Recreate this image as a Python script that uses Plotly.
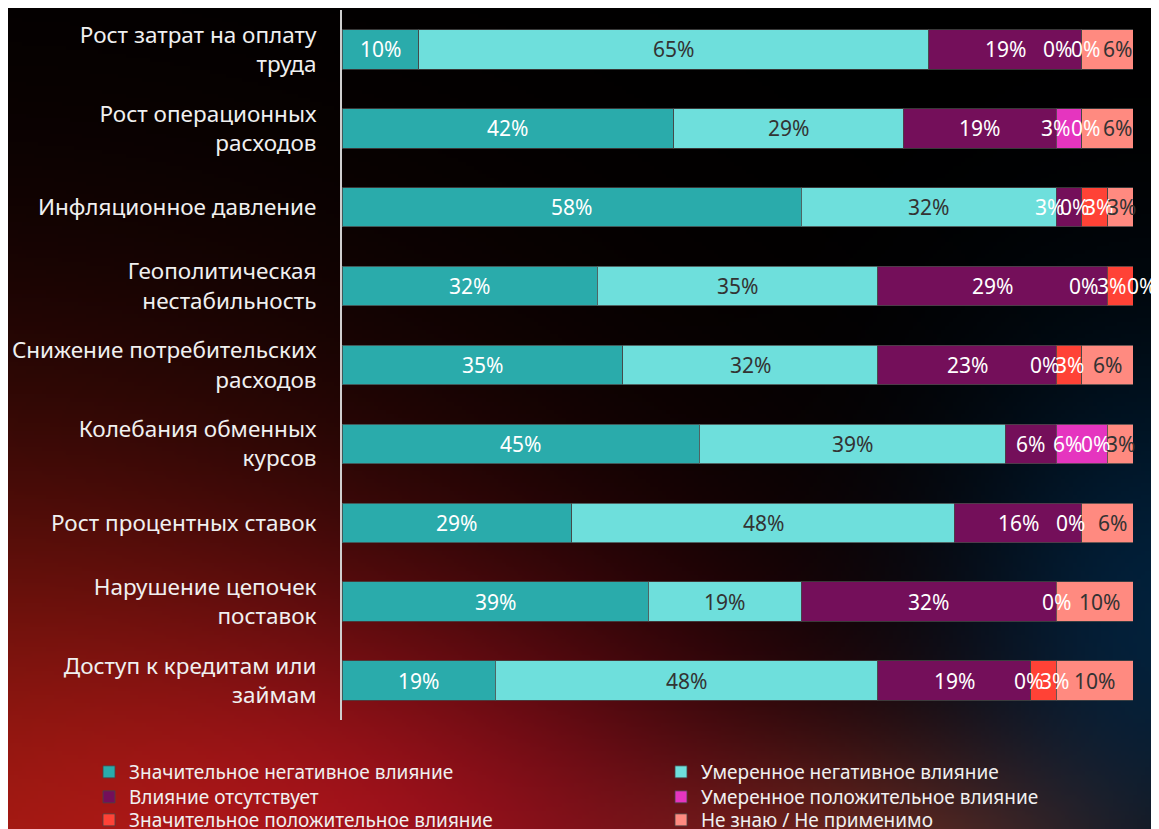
"""Stacked 100% horizontal bars: impact of economic factors (survey, n=31)."""

import base64
import struct
import zlib

import numpy as np
import plotly.graph_objects as go

categories = [
    "Рост затрат на оплату<br>труда",
    "Рост операционных<br>расходов",
    "Инфляционное давление",
    "Геополитическая<br>нестабильность",
    "Снижение потребительских<br>расходов",
    "Колебания обменных<br>курсов",
    "Рост процентных ставок",
    "Нарушение цепочек<br>поставок",
    "Доступ к кредитам или<br>займам",
]

series_names = [
    "Значительное негативное влияние",
    "Умеренное негативное влияние",
    "Влияние отсутствует",
    "Умеренное положительное влияние",
    "Значительное положительное влияние",
    "Не знаю / Не применимо",
]

# shares in %
sig_negative = [9.68, 41.94, 58.06, 32.26, 35.48, 45.16, 29.03, 38.71, 19.35]
mod_negative = [64.52, 29.03, 32.26, 35.48, 32.26, 38.71, 48.39, 19.35, 48.39]
no_impact = [19.35, 19.35, 3.23, 29.03, 22.58, 6.45, 16.13, 32.26, 19.35]
mod_positive = [0, 3.23, 0, 0, 0, 6.45, 0, 0, 0]
sig_positive = [0, 0, 3.23, 3.23, 3.23, 0, 0, 0, 3.23]
dont_know = [6.45, 6.45, 3.23, 0, 6.45, 3.23, 6.45, 9.68, 9.68]

series_values = [sig_negative, mod_negative, no_impact, mod_positive, sig_positive, dont_know]

colors = ["#2AABAB", "#6EDFDC", "#740F5A", "#E535BF", "#FF4236", "#FF8A80"]
text_colors = ["#FFFFFF", "#333333", "#FFFFFF", "#FFFFFF", "#FFFFFF", "#333333"]

# label nudges (px) for the crowded small segments at the right end, keyed (row, series)
label_shift = {
    (0, 3): -24, (0, 4): 4, (0, 5): 10,
    (1, 3): -14, (1, 4): 4, (1, 5): 10,
    (2, 2): -20, (2, 3): -7, (2, 4): 4, (2, 5): 1,
    (3, 3): -24, (3, 4): -9, (3, 5): 8,
    (4, 3): -12, (4, 4): 0,
    (5, 3): -14, (5, 4): -12,
    (6, 3): -11, (6, 5): 5,
    (7, 5): 5,
    (8, 3): -2, (8, 4): 11,
}
hidden_labels = {(6, 4), (7, 4)}

# the page body adds an 8px margin, so the figure is drawn 8px smaller
OFF = 8
W, H = 1159 - OFF, 829 - OFF
M = dict(l=342 - OFF, r=26, t=10 - OFF, b=109, autoexpand=False)
FONT = "Noto Sans"

# one single-item legend per series, laid out as 2 columns x 3 rows (page px)
legend_cols = [89, 661]
legend_rows = [772, 797, 820]


def background_png(w=288, h=205):
    """Dark backdrop with a red glow bottom-left and a blue hint on the right."""
    yy, xx = np.mgrid[0:h, 0:w].astype(float)
    xx = xx * W / w + OFF
    yy = yy * H / h + OFF
    img = np.zeros((h, w, 3))
    blobs = [
        ((-60, 900), (400, 340), (150, 25, 15)),
        ((450, 860), (260, 190), (85, 5, 20)),
        ((1160, 620), (150, 200), (0, 32, 58)),
        ((880, 870), (170, 90), (70, 35, 22)),
    ]
    for (cx, cy), (sx, sy), col in blobs:
        g = np.exp(-((xx - cx) ** 2 / (2 * sx ** 2) + (yy - cy) ** 2 / (2 * sy ** 2)))
        img += g[..., None] * np.array(col, dtype=float)
    rgb = np.clip(img, 0, 255).astype(np.uint8)
    raw = b"".join(b"\x00" + rgb[r].tobytes() for r in range(h))

    def chunk(tag, data):
        body = tag + data
        return struct.pack(">I", len(data)) + body + struct.pack(">I", zlib.crc32(body) & 0xFFFFFFFF)

    png = (b"\x89PNG\r\n\x1a\n"
           + chunk(b"IHDR", struct.pack(">IIBBBBB", w, h, 8, 2, 0, 0, 0))
           + chunk(b"IDAT", zlib.compress(raw, 9))
           + chunk(b"IEND", b""))
    return "data:image/png;base64," + base64.b64encode(png).decode()


fig = go.Figure()

legend_layout = {}
for k, (name, vals, col) in enumerate(zip(series_names, series_values, colors)):
    lg = "legend" if k == 0 else f"legend{k + 1}"
    fig.add_trace(go.Bar(
        y=categories, x=vals, name=name, orientation="h",
        marker=dict(color=col, line=dict(color="rgba(70,70,70,0.8)", width=1)),
        legend=lg, hoverinfo="skip",
    ))
    legend_layout[lg] = dict(
        xref="container", yref="container",
        x=(legend_cols[k % 2] - OFF) / W, y=1 - (legend_rows[k // 2] - OFF) / H,
        xanchor="left", yanchor="middle", bgcolor="rgba(0,0,0,0)",
        font=dict(family=FONT, size=19, color="#F0F0F0"),
    )

# value labels at the middle of each stacked segment
annotations = []
for i in range(len(categories)):
    cum = 0.0
    for k, vals in enumerate(series_values):
        v = vals[i]
        if (i, k) not in hidden_labels:
            annotations.append(dict(
                x=cum + v / 2, y=i, xref="x", yref="y", text=f"{v:.0f}%",
                showarrow=False, xanchor="center", yanchor="middle",
                xshift=label_shift.get((i, k), 0),
                font=dict(family=FONT, size=21,
                          color=text_colors[k] if v > 0 else "#FFFFFF"),
            ))
        cum += v

pw = W - M["l"] - M["r"]
ph = H - M["t"] - M["b"]

fig.update_layout(
    width=W, height=H, margin=M,
    barmode="stack", bargap=0.5,
    paper_bgcolor="#000000", plot_bgcolor="rgba(0,0,0,0)",
    font=dict(family=FONT, color="#F0F0F0"),
    xaxis=dict(range=[0, 100], visible=False, fixedrange=True),
    yaxis=dict(
        autorange="reversed", showline=True, linecolor="#CFCFCF", linewidth=2,
        showgrid=False, zeroline=False, ticks="", ticklabelstandoff=19,
        tickfont=dict(family=FONT, size=22.5, color="#F0F0F0"), automargin=False,
    ),
    annotations=annotations,
    images=[dict(
        source=background_png(), xref="paper", yref="paper",
        x=-M["l"] / pw, y=1 + M["t"] / ph, sizex=W / pw, sizey=H / ph,
        xanchor="left", yanchor="top", sizing="stretch", layer="below",
    )],
    showlegend=True,
    **legend_layout,
)

fig.write_html("out.html")
